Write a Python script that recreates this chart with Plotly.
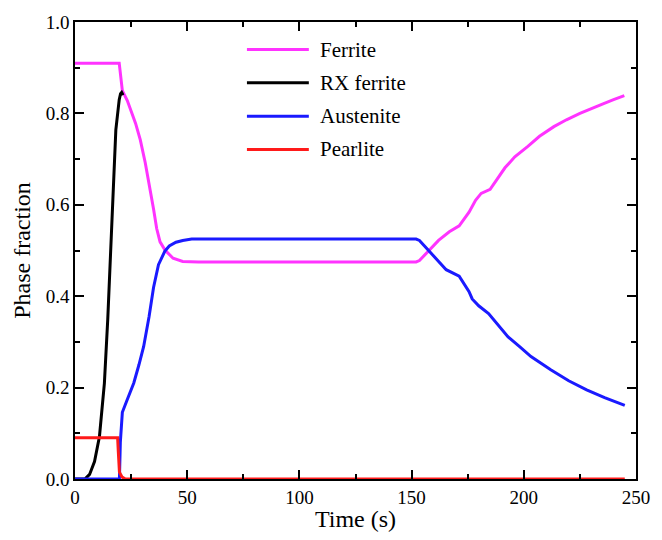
import plotly.graph_objects as go

# ---- data ----
ferrite_t = [0, 19.7, 21.1, 23.3, 27, 29.1, 31.3, 33.5, 35, 36.4, 37.9, 40.1, 43.7, 48, 55, 100, 152,
             153.5, 158, 162, 166.8, 171.2, 175.6, 178.5, 181, 185, 191.6, 196, 201.8, 207, 213.4,
             219, 225, 230, 235.3, 240, 244.8]
ferrite_y = [0.91, 0.91, 0.85, 0.828, 0.778, 0.742, 0.692, 0.634, 0.591, 0.548, 0.519, 0.501, 0.483, 0.476,
             0.475, 0.475, 0.475, 0.478, 0.501, 0.522, 0.541, 0.554, 0.584, 0.610, 0.625, 0.634, 0.681,
             0.705, 0.728, 0.75, 0.771, 0.786, 0.80, 0.811, 0.821, 0.830, 0.839]

rx_t = [0, 4.4, 6.5, 8.7, 10.9, 13.1, 14.6, 15.3, 16, 16.8, 18.2, 19.7, 20.3, 20.8, 21.4]
rx_y = [0, 0, 0.01, 0.038, 0.093, 0.21, 0.35, 0.43, 0.51, 0.62, 0.764, 0.83, 0.843, 0.846, 0.84]

aust_t = [0, 19.8, 20.2, 21.1, 23, 26.2, 28.5, 30.6, 33, 35, 37.2, 40, 42, 45, 48, 52, 100, 152,
          153.5, 158, 162, 165.4, 171.2, 175.6, 177, 179.9, 184.3, 188, 193, 198, 203.2, 212,
          220, 228, 236, 245]
aust_y = [0, 0, 0.08, 0.146, 0.17, 0.21, 0.25, 0.29, 0.355, 0.419, 0.469, 0.498, 0.51, 0.518, 0.522,
          0.525, 0.525, 0.525, 0.522, 0.498, 0.475, 0.458, 0.444, 0.41, 0.394, 0.379, 0.362, 0.34,
          0.311, 0.29, 0.268, 0.239, 0.215, 0.195, 0.178, 0.161]

pearl_t = [0, 19.0, 19.3, 19.8, 21, 22.5, 245]
pearl_y = [0.09, 0.09, 0.06, 0.015, 0.004, 0, 0]

names = ["Ferrite", "RX ferrite", "Austenite", "Pearlite"]
colors = ["#ff33ff", "#000000", "#1a1aff", "#ff1a1a"]
series = [(ferrite_t, ferrite_y), (rx_t, rx_y), (aust_t, aust_y), (pearl_t, pearl_y)]

x_ticks = [0, 50, 100, 150, 200, 250]
y_ticks = [0.0, 0.2, 0.4, 0.6, 0.8, 1.0]

FONT = "Liberation Serif, Times New Roman, serif"

fig = go.Figure()
for (t, y), n, c in zip(series, names, colors):
    fig.add_trace(go.Scatter(x=t, y=y, mode="lines", name=n,
                             line=dict(color=c, width=3), showlegend=False))

W, H = 662, 540
ml, mr, mt, mb = 75, 16, 17, 59
pw, ph = W - ml - mr, H - mt - mb

def px_x(p):
    return (p - ml) / pw

def px_y(p):
    return (H - mb - p) / ph

# custom legend (long line samples as in the reference)
shapes = []
annotations = []
for i, (n, c) in enumerate(zip(names, colors)):
    yc = 45 + 33.8 * i
    shapes.append(dict(type="line", xref="paper", yref="paper",
                       x0=px_x(250), x1=px_x(313), y0=px_y(yc), y1=px_y(yc),
                       line=dict(color=c, width=3)))
    annotations.append(dict(xref="paper", yref="paper", x=px_x(322), y=px_y(yc),
                            text=n, showarrow=False, xanchor="left", yanchor="middle",
                            font=dict(family=FONT, size=21, color="black")))

axis_common = dict(showline=True, linecolor="black", linewidth=1.5, mirror="allticks",
                   ticks="inside", ticklen=9, tickwidth=1.5, tickcolor="black",
                   showgrid=False, zeroline=False,
                   tickfont=dict(family=FONT, size=19, color="black"))

fig.update_layout(
    width=W, height=H,
    margin=dict(l=ml, r=mr, t=mt, b=mb),
    plot_bgcolor="white", paper_bgcolor="white",
    shapes=shapes, annotations=annotations,
    xaxis=dict(range=[0, 250], tickvals=x_ticks, ticktext=[str(v) for v in x_ticks],
               minor=dict(dtick=25, ticks="inside", ticklen=5, tickwidth=1.5, tickcolor="black"),
               title=dict(text="Time (s)", font=dict(family=FONT, size=24, color="black"), standoff=4),
               **axis_common),
    yaxis=dict(range=[0, 1], tickvals=y_ticks, ticktext=[f"{v:.1f}" for v in y_ticks],
               minor=dict(dtick=0.1, ticks="inside", ticklen=5, tickwidth=1.5, tickcolor="black"),
               title=dict(text="Phase fraction", font=dict(family=FONT, size=24, color="black"), standoff=8),
               **axis_common),
)

fig.write_html("out.html")
